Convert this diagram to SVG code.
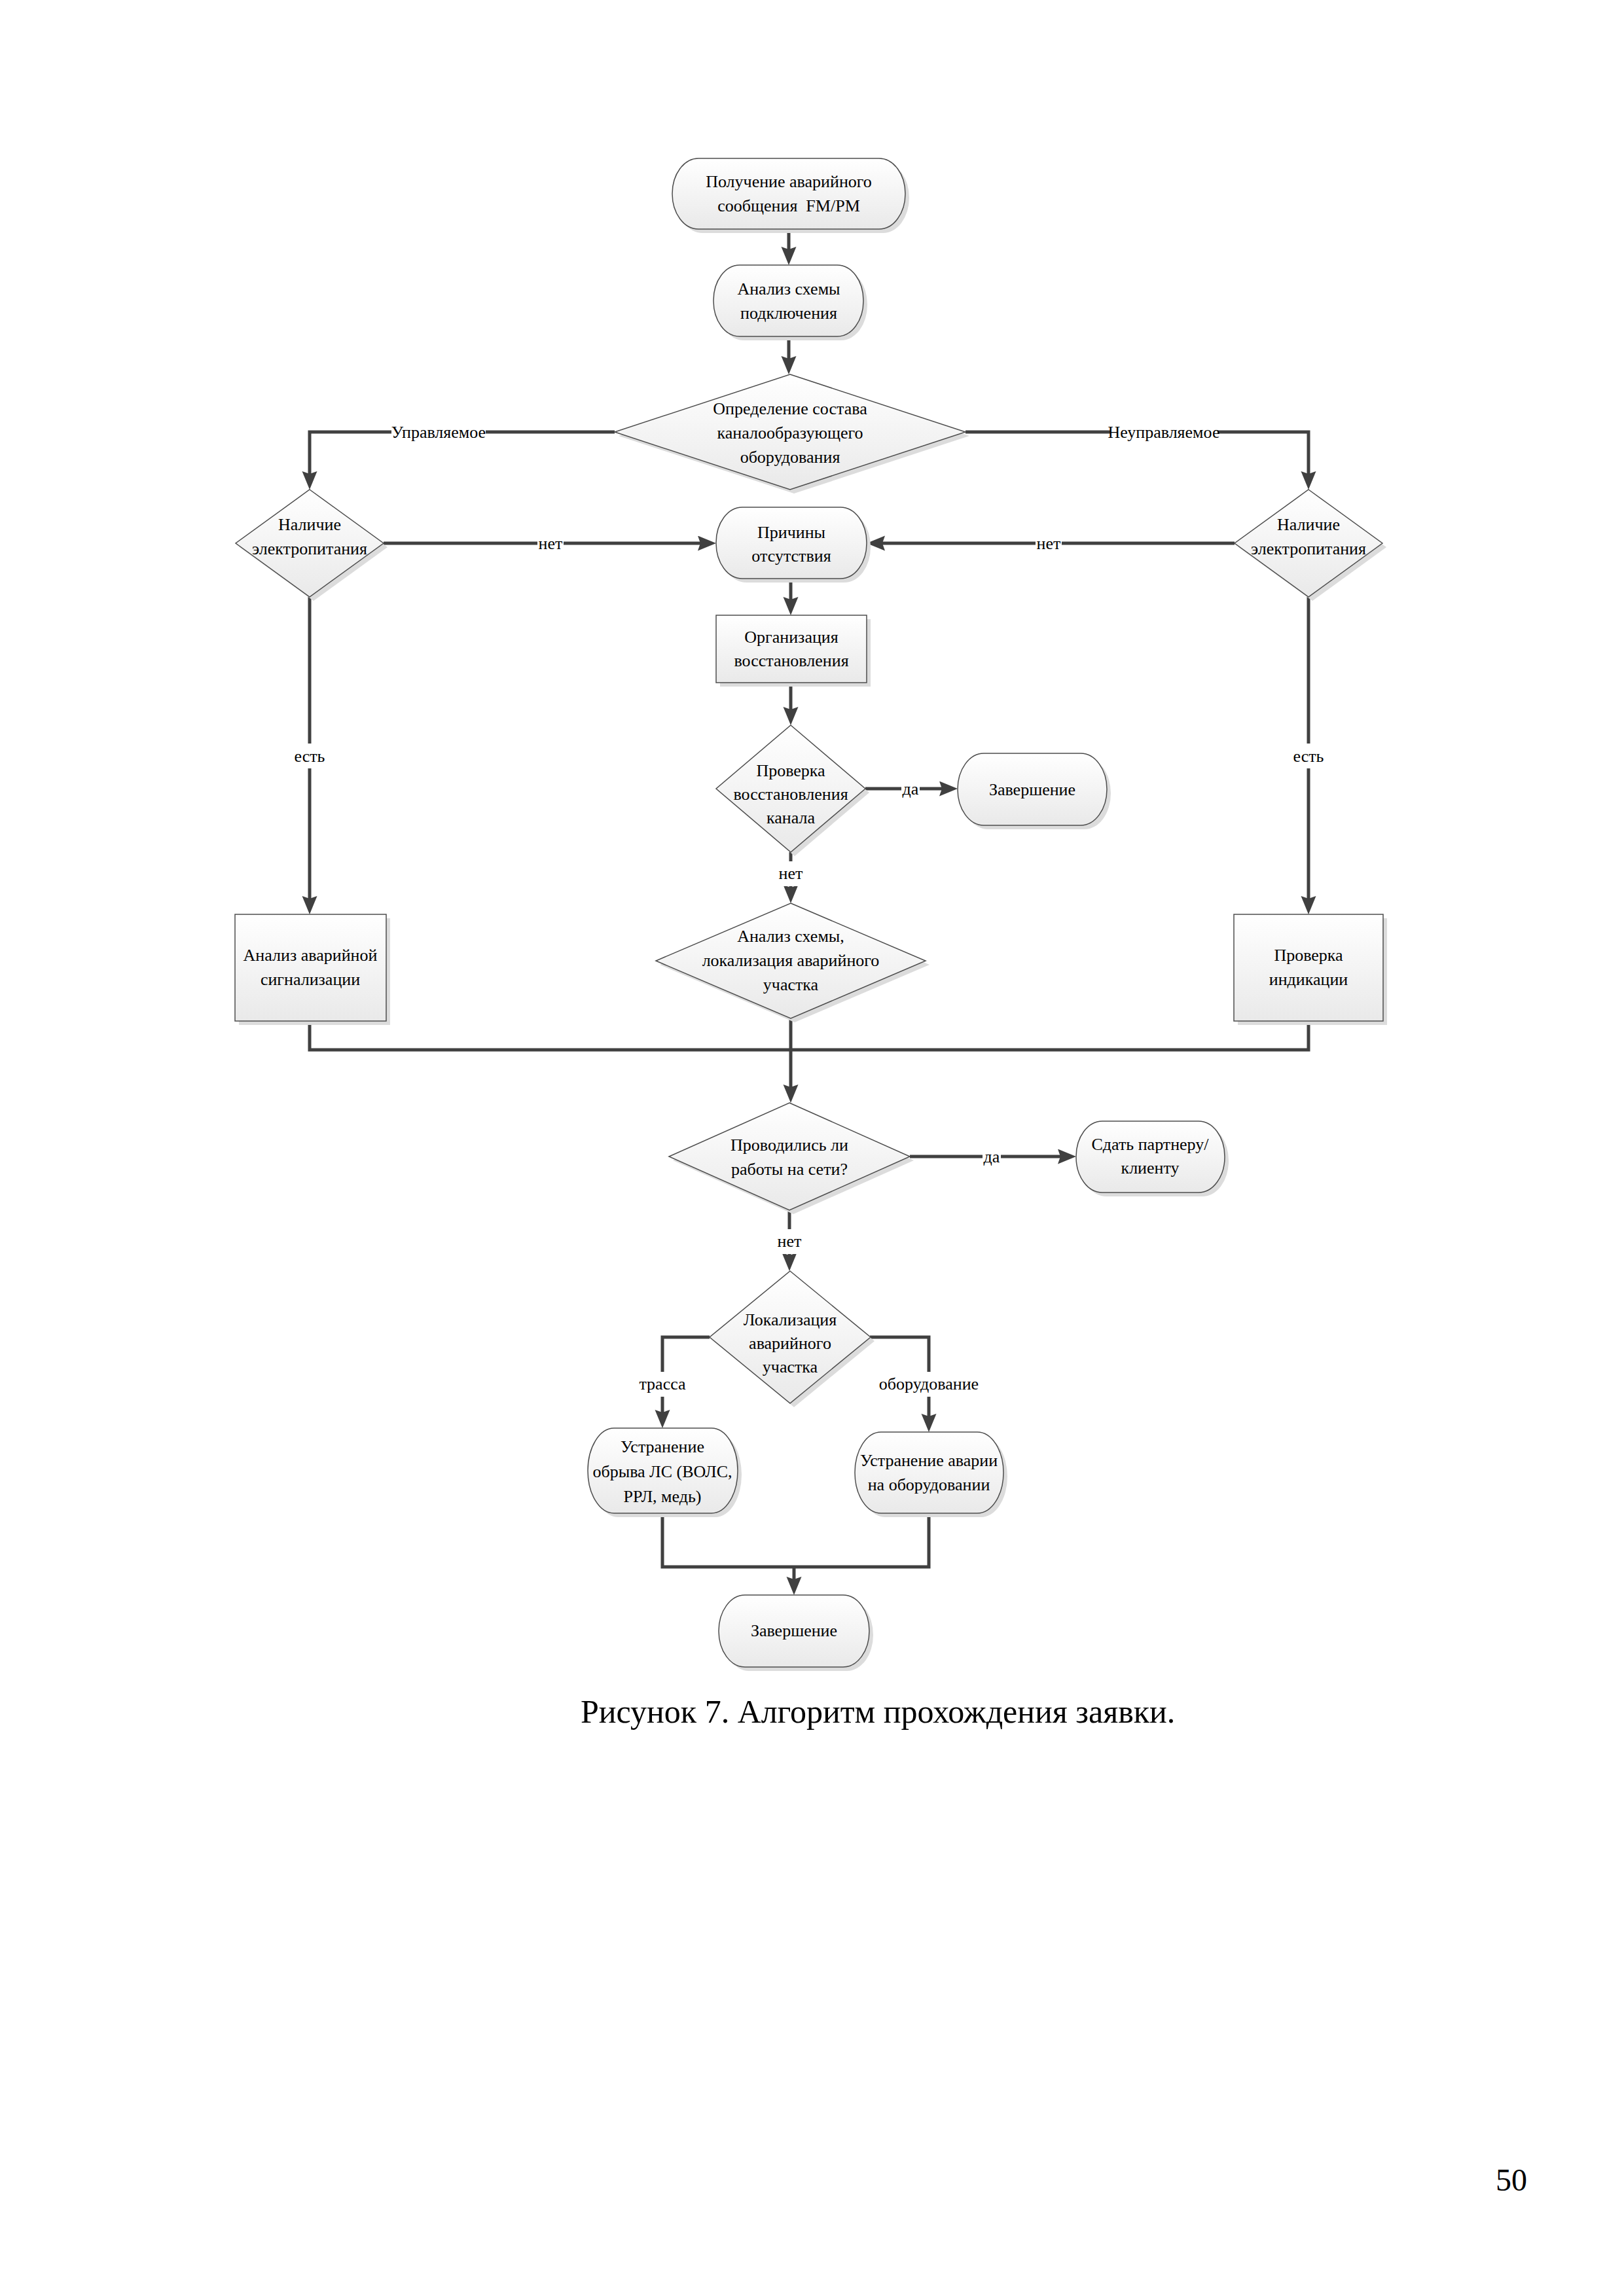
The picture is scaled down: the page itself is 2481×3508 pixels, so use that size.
<svg xmlns="http://www.w3.org/2000/svg" width="2481" height="3508" viewBox="0 0 2481 3508">
<style>
.sh{fill:#dcdcdc}
.nd{fill:url(#g);stroke:#4d4d4d;stroke-width:1.5}
.t{font-family:"Liberation Serif","Times New Roman",serif;font-size:26px;text-anchor:middle;fill:#000}
.ln{fill:none;stroke:#404040;stroke-width:5}
.ar{marker-end:url(#ah)}
.bg{fill:#fff}
</style>
<defs>
<linearGradient id="g" x1="0" y1="0" x2="0" y2="1">
<stop offset="0" stop-color="#ffffff"/>
<stop offset="1" stop-color="#e9e9e9"/>
</linearGradient>
<marker id="ah" markerUnits="userSpaceOnUse" markerWidth="30" markerHeight="24" refX="20" refY="11.5" orient="auto">
<path d="M0,0 L28,11.5 L0,23 L4,11.5 Z" fill="#404040"/>
</marker>
</defs>
<rect width="2481" height="3508" fill="#fff"/>

<g id="connectors">
<path class="ln ar" d="M1205,350 V397"/>
<path class="ln ar" d="M1205,514 V564"/>
<path class="ln ar" d="M939,660 H473 V740"/>
<path class="ln ar" d="M1475,660 H1999 V740"/>
<path class="ln ar" d="M586,830 H1086"/>
<path class="ln ar" d="M1886,830 H1332"/>
<path class="ln ar" d="M1208,884 V932"/>
<path class="ln ar" d="M1208,1043 V1100"/>
<path class="ln ar" d="M1322,1205 H1455"/>
<path class="ln ar" d="M1208,1302 V1372"/>
<path class="ln ar" d="M473,912 V1389"/>
<path class="ln ar" d="M1999,912 V1389"/>
<path class="ln" d="M473,1560 V1604 H1999 V1560"/>
<path class="ln ar" d="M1208,1556 V1677"/>
<path class="ln ar" d="M1390,1767 H1636"/>
<path class="ln ar" d="M1206,1849 V1934"/>
<path class="ln ar" d="M1084,2043 H1012 V2174"/>
<path class="ln ar" d="M1329,2043 H1419 V2180"/>
<path class="ln" d="M1012,2312 V2394 H1419 V2312"/>
<path class="ln ar" d="M1213,2394 V2429"/>
<g id="labels">
<rect class="bg" x="598" y="643" width="144" height="34"/><text class="t" x="670" y="669">Управляемое</text>
<rect class="bg" x="1696" y="643" width="164" height="34"/><text class="t" x="1778" y="669">Неуправляемое</text>
<rect class="bg" x="821" y="813" width="40" height="34"/><text class="t" x="841" y="839">нет</text>
<rect class="bg" x="1582" y="813" width="40" height="34"/><text class="t" x="1602" y="839">нет</text>
<rect class="bg" x="450" y="1136" width="46" height="38"/><text class="t" x="473" y="1164">есть</text>
<rect class="bg" x="1976" y="1136" width="46" height="38"/><text class="t" x="1999" y="1164">есть</text>
<rect class="bg" x="1377" y="1188" width="28" height="34"/><text class="t" x="1391" y="1214">да</text>
<rect class="bg" x="1187" y="1316" width="42" height="38"/><text class="t" x="1208" y="1343">нет</text>
<rect class="bg" x="1501" y="1750" width="28" height="34"/><text class="t" x="1515" y="1776">да</text>
<rect class="bg" x="1185" y="1878" width="42" height="38"/><text class="t" x="1206" y="1905">нет</text>
<rect class="bg" x="972" y="2096" width="80" height="38"/><text class="t" x="1012" y="2123">трасса</text>
<rect class="bg" x="1350" y="2096" width="138" height="38"/><text class="t" x="1419" y="2123">оборудование</text>
</g>
</g>

<g id="n1"><rect class="sh" x="1033" y="248" width="356" height="108" rx="40" ry="54"/><rect class="nd" x="1027" y="242" width="356" height="108" rx="40" ry="54"/><text class="t" x="1205" y="286">Получение аварийного</text><text class="t" x="1205" y="323" xml:space="preserve">сообщения  FM/PM</text></g>
<g id="n2"><rect class="sh" x="1096" y="411" width="229" height="109" rx="40" ry="54"/><rect class="nd" x="1090" y="405" width="229" height="109" rx="40" ry="54"/><text class="t" x="1205" y="450">Анализ схемы</text><text class="t" x="1205" y="487">подключения</text></g>
<g id="n3"><polygon class="sh" points="1213,578 1481,666 1213,754 945,666"/><polygon class="nd" points="1207,572 1475,660 1207,748 939,660"/><text class="t" x="1207" y="633">Определение состава</text><text class="t" x="1207" y="670">каналообразующего</text><text class="t" x="1207" y="707">оборудования</text></g>
<g id="n4"><polygon class="sh" points="479,754 592,836 479,918 366,836"/><polygon class="nd" points="473,748 586,830 473,912 360,830"/><text class="t" x="473" y="810">Наличие</text><text class="t" x="473" y="847">электропитания</text></g>
<g id="n5"><polygon class="sh" points="2005,754 2118,836 2005,918 1892,836"/><polygon class="nd" points="1999,748 2112,830 1999,912 1886,830"/><text class="t" x="1999" y="810">Наличие</text><text class="t" x="1999" y="847">электропитания</text></g>
<g id="n6"><rect class="sh" x="1100" y="781" width="230" height="109" rx="40" ry="54"/><rect class="nd" x="1094" y="775" width="230" height="109" rx="40" ry="54"/><text class="t" x="1209" y="822">Причины</text><text class="t" x="1209" y="858">отсутствия</text></g>
<g id="n7"><rect class="sh" x="1100" y="946" width="230" height="103"/><rect class="nd" x="1094" y="940" width="230" height="103"/><text class="t" x="1209" y="982">Организация</text><text class="t" x="1209" y="1018">восстановления</text></g>
<g id="n8"><polygon class="sh" points="1214,1114 1328,1211 1214,1308 1100,1211"/><polygon class="nd" points="1208,1108 1322,1205 1208,1302 1094,1205"/><text class="t" x="1208" y="1186">Проверка</text><text class="t" x="1208" y="1222">восстановления</text><text class="t" x="1208" y="1258">канала</text></g>
<g id="n9"><rect class="sh" x="1469" y="1157" width="228" height="110" rx="40" ry="55"/><rect class="nd" x="1463" y="1151" width="228" height="110" rx="40" ry="55"/><text class="t" x="1577" y="1215">Завершение</text></g>
<g id="n10"><rect class="sh" x="365" y="1403" width="231" height="163"/><rect class="nd" x="359" y="1397" width="231" height="163"/><text class="t" x="474" y="1468">Анализ аварийной</text><text class="t" x="474" y="1505">сигнализации</text></g>
<g id="n11"><rect class="sh" x="1891" y="1403" width="228" height="163"/><rect class="nd" x="1885" y="1397" width="228" height="163"/><text class="t" x="1999" y="1468">Проверка</text><text class="t" x="1999" y="1505">индикации</text></g>
<g id="n12"><polygon class="sh" points="1214,1386 1420,1474 1214,1562 1008,1474"/><polygon class="nd" points="1208,1380 1414,1468 1208,1556 1002,1468"/><text class="t" x="1208" y="1439">Анализ схемы,</text><text class="t" x="1208" y="1476">локализация аварийного</text><text class="t" x="1208" y="1513">участка</text></g>
<g id="n13"><polygon class="sh" points="1212,1691 1396,1773 1212,1855 1028,1773"/><polygon class="nd" points="1206,1685 1390,1767 1206,1849 1022,1767"/><text class="t" x="1206" y="1758">Проводились ли</text><text class="t" x="1206" y="1795">работы на сети?</text></g>
<g id="n14"><rect class="sh" x="1650" y="1719" width="227" height="109" rx="40" ry="54"/><rect class="nd" x="1644" y="1713" width="227" height="109" rx="40" ry="54"/><text class="t" x="1757" y="1757">Сдать партнеру/</text><text class="t" x="1757" y="1793">клиенту</text></g>
<g id="n15"><polygon class="sh" points="1213,1948 1336,2049 1213,2150 1090,2049"/><polygon class="nd" points="1207,1942 1330,2043 1207,2144 1084,2043"/><text class="t" x="1207" y="2025">Локализация</text><text class="t" x="1207" y="2061">аварийного</text><text class="t" x="1207" y="2097">участка</text></g>
<g id="n16"><rect class="sh" x="904" y="2188" width="229" height="130" rx="40" ry="65"/><rect class="nd" x="898" y="2182" width="229" height="130" rx="40" ry="65"/><text class="t" x="1012" y="2219">Устранение</text><text class="t" x="1012" y="2257">обрыва ЛС (ВОЛС,</text><text class="t" x="1012" y="2295">РРЛ, медь)</text></g>
<g id="n17"><rect class="sh" x="1312" y="2194" width="227" height="124" rx="40" ry="62"/><rect class="nd" x="1306" y="2188" width="227" height="124" rx="40" ry="62"/><text class="t" x="1419" y="2240">Устранение аварии</text><text class="t" x="1419" y="2277">на оборудовании</text></g>
<g id="n18"><rect class="sh" x="1104" y="2443" width="230" height="110" rx="40" ry="55"/><rect class="nd" x="1098" y="2437" width="230" height="110" rx="40" ry="55"/><text class="t" x="1213" y="2500">Завершение</text></g>

<text x="887" y="2632" font-family="Liberation Serif, Times New Roman, serif" font-size="50" fill="#000">Рисунок 7. Алгоритм прохождения заявки.</text>
<text x="2285" y="3347" font-family="Liberation Serif, Times New Roman, serif" font-size="48" fill="#000">50</text>
</svg>
